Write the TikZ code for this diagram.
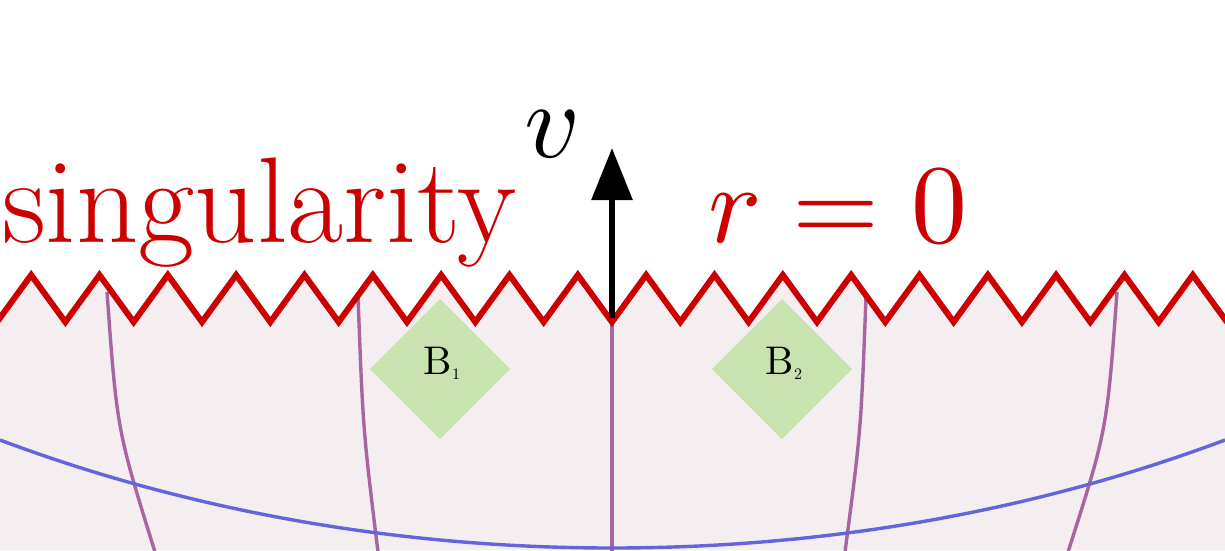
\documentclass[tikz,border=0pt]{standalone}
\usetikzlibrary{arrows.meta}
\definecolor{bgp}{RGB}{244,238,241}
\definecolor{purpc}{RGB}{168,102,160}
\definecolor{bluec}{RGB}{100,100,220}
\definecolor{greenc}{RGB}{200,226,176}
\definecolor{redc}{RGB}{204,0,0}
\begin{document}
\begin{tikzpicture}[x=1pt,y=-1pt,
  purp/.style={draw=purpc,line width=3.4pt},
  bl/.style={draw=bluec,line width=3.4pt},
  dia/.style={fill=greenc},
  red/.style={text=redc}]
\useasboundingbox (0,0) rectangle (1225,550);
\fill[bgp] (0,550) -- (-3,322)
  \foreach \k in {0,...,17} { -- ({-3+68.33*\k+34.17},275) -- ({-3+68.33*(\k+1)},322)} -- (1225,550) -- cycle;
\draw[purp] (107,292) .. controls (117,430) .. (155,552);
\draw[purp] (358,296) .. controls (363,430) .. (378,552);
\draw[purp] (612,300) -- (612,552);
\draw[purp] (866,296) .. controls (861,430) .. (845,552);
\draw[purp] (1117,292) .. controls (1107,430) .. (1068,552);
\draw[bl] (0,440) .. controls (200,515) and (410,548) .. (612,548) .. controls (815,548) and (1025,515) .. (1225,440);
\node[dia,minimum size=99pt,rotate=45] (b1d) at (440,369) {};
\node[dia,minimum size=99pt,rotate=45] (b2d) at (782,369) {};
\node (b1) at (442,363) {\scalebox{4}{B}\scalebox{1.6}{\raisebox{-3pt}{1}}};
\node (b2) at (784,363) {\scalebox{4}{B}\scalebox{1.6}{\raisebox{-3pt}{2}}};
\draw[line width=6pt,line join=miter,redc] (-3,322)
  \foreach \k in {0,...,17} { -- ({-3+68.33*\k+34.17},275) -- ({-3+68.33*(\k+1)},322)};
\coordinate (base) at (612,318);
\coordinate (tip) at (612,148);
\draw[line width=6pt,-{Triangle[length=52pt,width=40pt]}] (base) -- (tip);
\node[red,anchor=base west,inner sep=0,font=\fontsize{122}{122}\selectfont] (sing) at (2,242) {singularity};
\node[red,anchor=base west,inner sep=0] (r0) at (708,242) {\scalebox{11.2}{$r=0$}};
\node[anchor=base,inner sep=0] (v) at (553,157) {\scalebox{10.8}{$v$}};
\end{tikzpicture}
\end{document}
